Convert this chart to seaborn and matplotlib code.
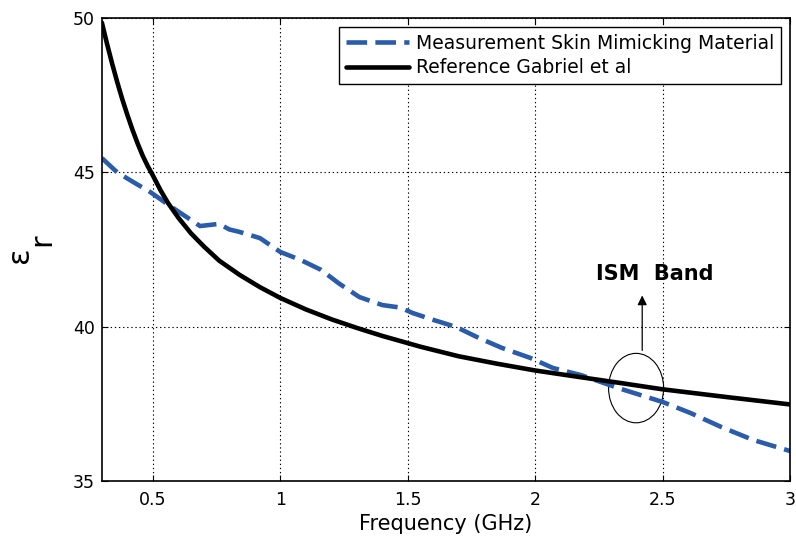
import numpy as np
import pandas as pd
import matplotlib
matplotlib.use("Agg")
import matplotlib.pyplot as plt
import seaborn as sns
from matplotlib.patches import Ellipse
from matplotlib.lines import Line2D

# Data
freq_meas = [0.30, 0.36, 0.42, 0.49, 0.58, 0.685, 0.76, 0.80, 0.84, 0.92, 1.00, 1.08,
             1.16, 1.23, 1.31, 1.40, 1.47, 1.52, 1.60, 1.69, 1.78, 1.87, 1.98, 2.07,
             2.18, 2.33, 2.50, 2.61, 2.73, 2.855, 3.00]
eps_meas = [45.46, 45.0, 44.7, 44.36, 43.84, 43.26, 43.33, 43.15, 43.07, 42.87, 42.42, 42.16,
            41.84, 41.4, 40.96, 40.70, 40.62, 40.44, 40.22, 39.99, 39.63, 39.31, 38.99, 38.66,
            38.43, 38.0, 37.56, 37.2, 36.75, 36.33, 35.97]

freq_ref = [0.30, 0.32, 0.34, 0.36, 0.38, 0.40, 0.42, 0.44, 0.46, 0.48, 0.50, 0.53,
            0.56, 0.60, 0.65, 0.70, 0.76, 0.84, 0.92, 1.00, 1.10, 1.20, 1.30, 1.40,
            1.55, 1.70, 1.85, 2.00, 2.18, 2.33, 2.50, 2.75, 3.00]
eps_ref = [49.85, 49.17, 48.53, 47.93, 47.37, 46.86, 46.38, 45.94, 45.54, 45.2, 44.9, 44.42,
           44.0, 43.53, 43.02, 42.6, 42.14, 41.68, 41.28, 40.93, 40.56, 40.24, 39.96, 39.7,
           39.35, 39.04, 38.8, 38.58, 38.36, 38.18, 37.97, 37.72, 37.48]

labels = ["Measurement Skin Mimicking Material", "Reference Gabriel et al"]
xticks = [0.5, 1, 1.5, 2, 2.5, 3]
xticklabels = ["0.5", "1", "1.5", "2", "2.5", "3"]
yticks = [35, 40, 45, 50]

BLUE = "#2a5caa"

df = pd.concat([
    pd.DataFrame({"f": freq_meas, "eps": eps_meas, "series": labels[0]}),
    pd.DataFrame({"f": freq_ref, "eps": eps_ref, "series": labels[1]}),
])

sns.set_theme(style="white")
plt.rcParams['font.family'] = ['DejaVu Sans']
plt.rcParams['text.color'] = 'black'
plt.rcParams['axes.labelcolor'] = 'black'
plt.rcParams['legend.labelcolor'] = 'black'

fig = plt.figure(figsize=(7.96, 5.38), dpi=100)
ax = fig.add_axes([0.128, 0.106, 0.8645, 0.8605])

sns.lineplot(data=df, x="f", y="eps", hue="series", style="series",
             palette={labels[0]: BLUE, labels[1]: "black"},
             dashes={labels[0]: (4.5, 1.8), labels[1]: ""},
             linewidth=3.3, ax=ax, legend=False, sort=False)

ax.set_xlim(0.3, 3)
ax.set_ylim(35, 50)
ax.set_xticks(xticks)
ax.set_xticklabels(xticklabels)
ax.set_yticks(yticks)
ax.tick_params(direction="in", length=4, width=0.8, labelsize=12.5, colors="black",
               top=True, right=True, bottom=True, left=True, pad=5)
ax.tick_params(axis="x", pad=7)
ax.grid(True, color="black", linestyle=(0, (1.2, 2.5)), linewidth=0.8)
for s in ax.spines.values():
    s.set_color("black")
    s.set_linewidth(1.2)

ax.set_xlabel("Frequency (GHz)", fontsize=15, color="black", labelpad=4)
ax.set_ylabel("")
fig.text(0.025, 0.526, "ε", rotation=90, fontsize=22, ha="center", va="center", color="black")
fig.text(0.053, 0.554, "r", rotation=90, fontsize=22, ha="center", va="center", color="black")

handles = [Line2D([], [], color=BLUE, lw=3.3, dashes=(4.5, 1.8)),
           Line2D([], [], color="black", lw=3.3)]
leg = ax.legend(handles, labels, loc="upper right", fontsize=13.5, frameon=True,
                fancybox=False, edgecolor="black", framealpha=1,
                handlelength=3.4, handletextpad=0.37, borderpad=0.35,
                labelspacing=0.3, borderaxespad=0.48)
leg.get_frame().set_linewidth(1.0)
for t in leg.get_texts():
    t.set_color("black")

ax.add_patch(Ellipse((2.396, 38.01), 0.216, 2.25, fill=False, edgecolor="black", lw=0.8))
ax.annotate("", xy=(2.42, 41.1), xytext=(2.42, 39.14),
            arrowprops=dict(arrowstyle="-|>", color="black", lw=0.9, mutation_scale=14))
ax.text(2.47, 41.71, "ISM  Band", fontsize=15, fontweight="bold", ha="center",
        va="center", color="black")

fig.savefig("out.png", dpi=100)
